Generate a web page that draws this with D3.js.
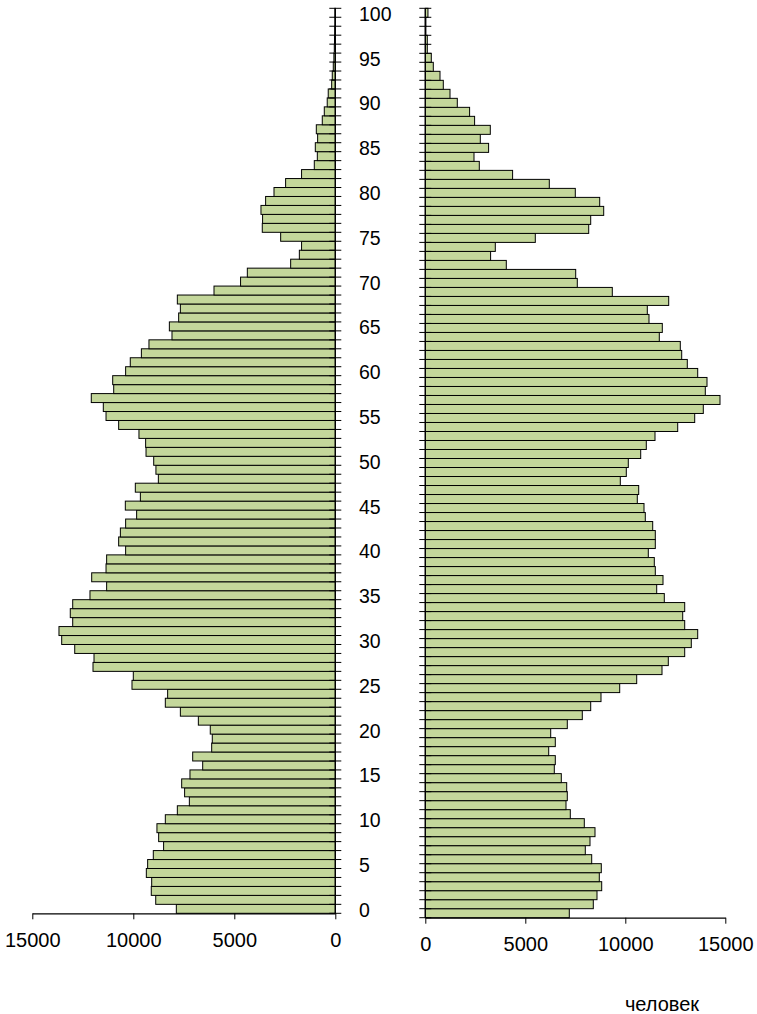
<!DOCTYPE html>
<html><head><meta charset="utf-8">
<script src="https://cdn.jsdelivr.net/npm/d3@7/dist/d3.min.js"></script>
<style>body{margin:0;background:#fff}svg{display:block}text{font-family:"Liberation Sans",Arial,sans-serif;fill:#000}</style>
</head><body><div id="chart"></div>
<script>
const ages = d3.range(0, 101);
const male = [7870,8890,9110,9090,9355,9290,9010,8500,8745,8830,
8415,7820,7225,7460,7605,7195,6565,7060,6120,6090,
6190,6780,7670,8415,8300,10065,10000,11995,11945,12900,
13545,13680,13000,13120,13000,12145,11320,12060,11350,11320,
10380,10725,10640,10380,9835,10395,9650,9900,8760,8880,
8990,9370,9390,9720,10725,11350,11485,12080,10970,11020,
10380,10150,9600,9225,8085,8215,7755,7670,7820,6005,
4690,4355,2210,1780,1670,2705,3615,3600,3680,3450,
3035,2460,1670,1040,890,990,875,940,645,545,
400,350,180,150,100,70,50,40,30,20,20];
const female = [7200,8400,8585,8820,8700,8800,8320,8000,8235,8485,
7950,7250,7035,7100,7070,6800,6450,6500,6170,6500,
6270,7100,7850,8270,8785,9720,10570,11835,12150,12970,
13300,13620,12970,12870,12970,11950,11570,11885,11500,11450,
11150,11500,11500,11370,11000,10935,10600,10670,9750,10050,
10150,10770,11050,11485,12620,13470,13900,14735,14000,14085,
13620,13100,12820,12750,11700,11850,11185,11100,12170,9350,
7600,7520,4050,3265,3500,5500,8170,8270,8920,8720,
7500,6200,4365,2700,2435,3165,2750,3250,2465,2215,
1600,1235,900,735,400,300,100,100,30,30,133];
const xTicks = [0, 5000, 10000, 15000];
const ageLabelStep = 5;
const unitLabel = "человек";

const W = 757, H = 1014;
const svg = d3.select("#chart").append("svg").attr("width", W).attr("height", H);

const fill = "#c4d79b";
const yL = d3.scaleBand().domain(ages.slice().reverse()).range([8.3, 913.3]).padding(0);
const yR = d3.scaleBand().domain(ages.slice().reverse()).range([8.3, 917.7]).padding(0);
const xL = d3.scaleLinear().domain([0, 15000]).range([335.3, 32.3]);
const xR = d3.scaleLinear().domain([0, 15000]).range([425.3, 725.3]);

// bars
svg.append("g").selectAll("rect").data(ages).join("rect")
  .attr("x", d => xL(male[d])).attr("y", d => yL(d))
  .attr("width", d => xL(0) - xL(male[d])).attr("height", yL.bandwidth())
  .attr("fill", fill).attr("stroke", "#000").attr("stroke-width", 1);
svg.append("g").selectAll("rect").data(ages).join("rect")
  .attr("x", xR(0)).attr("y", d => yR(d))
  .attr("width", d => xR(female[d]) - xR(0)).attr("height", yR.bandwidth())
  .attr("fill", fill).attr("stroke", "#000").attr("stroke-width", 1);

// vertical axes with boundary ticks
function vAxis(y, x0) {
  const g = svg.append("g");
  const bounds = ages.map(a => y(a) + y.bandwidth()).concat([y(100)]);
  g.selectAll("line.t").data(bounds).join("line")
    .attr("x1", x0 - 6).attr("x2", x0 + 6).attr("y1", d => d).attr("y2", d => d)
    .attr("stroke", "#000").attr("stroke-width", 1);
  g.append("line").attr("x1", x0).attr("x2", x0)
    .attr("y1", y.range()[0]).attr("y2", y.range()[1])
    .attr("stroke", "#000").attr("stroke-width", 1.3);
}
vAxis(yL, xL(0));
vAxis(yR, xR(0));

// age labels
svg.append("g").selectAll("text").data(ages.filter(a => a % ageLabelStep === 0)).join("text")
  .attr("x", 359).attr("y", d => yL(d) + yL.bandwidth() / 2 + 1)
  .attr("dy", "0.36em").attr("font-size", 19.5).text(d => d);

// horizontal axes
function hAxis(x, yPos) {
  const ax = d3.axisBottom(x).tickValues(xTicks).tickSize(6).tickSizeOuter(0).tickFormat(d3.format("d"));
  const g = svg.append("g").attr("transform", `translate(0,${yPos})`).call(ax);
  g.select(".domain").attr("stroke", "#000").attr("stroke-width", 1.3);
  g.selectAll(".tick line").attr("stroke", "#000");
  g.selectAll(".tick text").attr("y", 19).attr("dy", "0.72em")
    .attr("font-size", 20).attr("font-family", "Liberation Sans, Arial, sans-serif").attr("fill", "#000");
}
hAxis(xL, 913.3);
hAxis(xR, 917.7);

svg.append("text").attr("x", 662).attr("y", 1011).attr("text-anchor", "middle")
  .attr("font-size", 20).text(unitLabel);
</script></body></html>
